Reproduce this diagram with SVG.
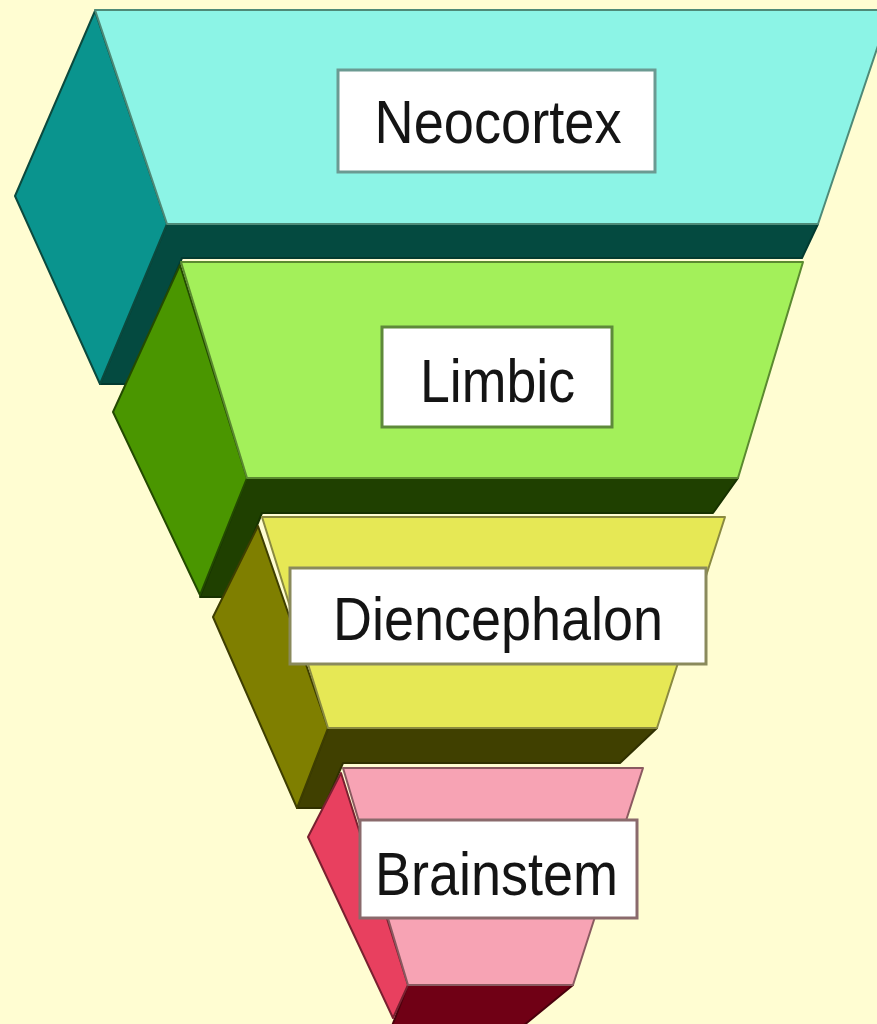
<svg xmlns="http://www.w3.org/2000/svg" width="877" height="1024" viewBox="0 0 877 1024">
<style>
.lbl{font-family:"Liberation Sans",Arial,sans-serif;font-size:62px;fill:#141414;text-anchor:middle}
.box{fill:#ffffff;stroke-width:3}
.edge{stroke-width:2;stroke-linejoin:round}
</style>
<rect x="0" y="0" width="877" height="1024" fill="#fffdd2"/>

<g id="neocortex">
  <polygon class="edge" points="167,224 818,224 802,258 182,258 129,384 100,384" fill="#044a40" stroke="#033a30"/>
  <polygon class="edge" points="95,11 15,196 100,384 167,224" fill="#0a948e" stroke="#0b4a3e"/>
  <polygon class="edge" points="95,10 890,10 818,224 167,224" fill="#8cf4e6" stroke="#4e8a78"/>
  <rect class="box" x="338" y="70" width="317" height="102" stroke="#6b9a92"/>
  <text class="lbl" x="498" y="143" textLength="247" lengthAdjust="spacingAndGlyphs">Neocortex</text>
</g>

<g id="limbic">
  <polygon class="edge" points="247,478 738,478 713,513 262,513 228,597 200,597" fill="#1f4000" stroke="#173200"/>
  <polygon class="edge" points="180,265 113,412 200,595 247,478" fill="#4a9600" stroke="#234a00"/>
  <polygon class="edge" points="181,262 803,262 738,478 247,478" fill="#a3f05a" stroke="#5b8a30"/>
  <rect class="box" x="382" y="327" width="230" height="100" stroke="#5e8a3a"/>
  <text class="lbl" x="497.5" y="402" textLength="155" lengthAdjust="spacingAndGlyphs">Limbic</text>
</g>

<g id="diencephalon">
  <polygon class="edge" points="328,728 657,728 620,763 343,763 324,808 297,808" fill="#404000" stroke="#303000"/>
  <polygon class="edge" points="258,526 213,617 297,808 328,728" fill="#7f7f00" stroke="#3e3e00"/>
  <polygon class="edge" points="262,517 725,517 657,728 328,728" fill="#e6e855" stroke="#8a8a40"/>
  <rect class="box" x="290" y="568" width="416" height="96" stroke="#8a8a5c"/>
  <text class="lbl" x="498" y="640" textLength="330" lengthAdjust="spacingAndGlyphs">Diencephalon</text>
</g>

<g id="brainstem">
  <polygon class="edge" points="408,985 573,985 523,1026 392,1026" fill="#700015" stroke="#4a000c"/>
  <polygon class="edge" points="341,773 308,837 393,1018 408,985" fill="#e8405f" stroke="#7a2030"/>
  <polygon class="edge" points="343,768 643,768 573,985 408,985" fill="#f7a3b4" stroke="#8a5a60"/>
  <rect class="box" x="360" y="820" width="277" height="98" stroke="#8a6a6c"/>
  <text class="lbl" x="496.5" y="895" textLength="243" lengthAdjust="spacingAndGlyphs">Brainstem</text>
</g>

<g id="connectors"></g>
</svg>
